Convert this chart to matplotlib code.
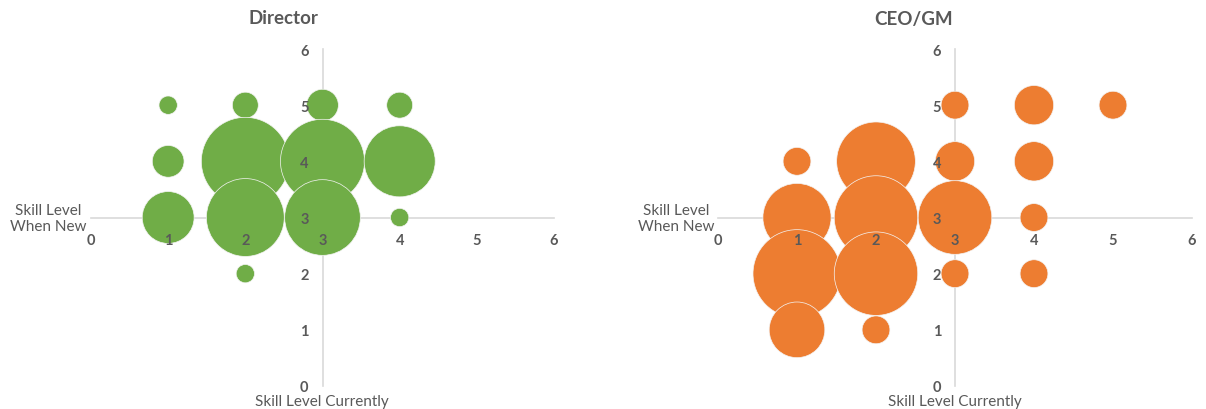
import numpy as np
import matplotlib
matplotlib.use("Agg")
import matplotlib.pyplot as plt

plt.rcParams['font.family'] = ['Lato', 'DejaVu Sans']

# Director: (skill currently, skill when new, count)
dir_x = [1, 2, 3, 4, 1, 2, 3, 4, 1, 2, 3, 4, 2]
dir_y = [5, 5, 5, 5, 4, 4, 4, 4, 3, 3, 3, 3, 2]
dir_n = [1, 2, 3, 2, 3, 23, 21, 15, 8, 18, 17, 1, 1]

# CEO/GM
ceo_x = [3, 4, 5, 1, 2, 3, 4, 1, 2, 3, 4, 1, 2, 3, 4, 1, 2]
ceo_y = [5, 5, 5, 4, 4, 4, 4, 3, 3, 3, 3, 2, 2, 2, 2, 1, 1]
ceo_n = [1, 2, 1, 1, 8, 2, 2, 6, 9, 7, 1, 10, 9, 1, 1, 4, 1]

ticks = [0, 1, 2, 3, 4, 5, 6]
TEXT = '#595959'
LINE = '#D9D9D9'
W, H = 1206, 410
MAX_D_PX = 88  # diameter of the biggest bubble in pixels


def bubble_panel(fig, rect, xs, ys, ns, color, title, title_x, side_x, cur_x):
    ax = fig.add_axes(rect)
    ns = np.array(ns, dtype=float)
    s_max = (MAX_D_PX * 72 / 100) ** 2
    ax.scatter(xs, ys, s=s_max * ns / ns.max(), color=color,
               edgecolors='#F4F4F4', linewidths=0.5, zorder=2)
    ax.set_xlim(0, 6)
    ax.set_ylim(0, 6)
    ax.set_xticks(ticks)
    ax.set_yticks(ticks)
    for sp in ['top', 'right']:
        ax.spines[sp].set_visible(False)
    for sp in ['left', 'bottom']:
        ax.spines[sp].set_position(('data', 3))
        ax.spines[sp].set_color(LINE)
        ax.spines[sp].set_linewidth(1.2)
        ax.spines[sp].set_zorder(1)
    ax.tick_params(axis='x', length=0, pad=11, labelsize=10.5, labelcolor=TEXT)
    ax.tick_params(axis='y', length=0, pad=10, labelsize=10.5, labelcolor=TEXT)
    for lab in ax.get_xticklabels() + ax.get_yticklabels():
        lab.set_fontweight('bold')
    ax.xaxis.set_zorder(3)
    ax.yaxis.set_zorder(3)
    ax.patch.set_alpha(0)

    fig.text(title_x / W, 1 - 19 / H, title, ha='center', va='center',
             fontsize=13.5, fontweight='bold', color=TEXT)
    fig.text(side_x / W, 1 - 219 / H, 'Skill Level\nWhen New', ha='center',
             va='center', fontsize=11, color=TEXT, linespacing=1.2)
    fig.text(cur_x / W, 1 - 402 / H, 'Skill Level Currently', ha='center',
             va='center', fontsize=11, color=TEXT)
    return ax


fig = plt.figure(figsize=(W / 100, H / 100), dpi=100)

bubble_panel(fig, [91 / W, 23 / H, 463 / W, 337 / H], dir_x, dir_y, dir_n,
             '#70AD47', 'Director', 283, 48, 322)
bubble_panel(fig, [718 / W, 23 / H, 474 / W, 337 / H], ceo_x, ceo_y, ceo_n,
             '#ED7D31', 'CEO/GM', 914, 676, 955)

fig.savefig('out.png', dpi=100)
